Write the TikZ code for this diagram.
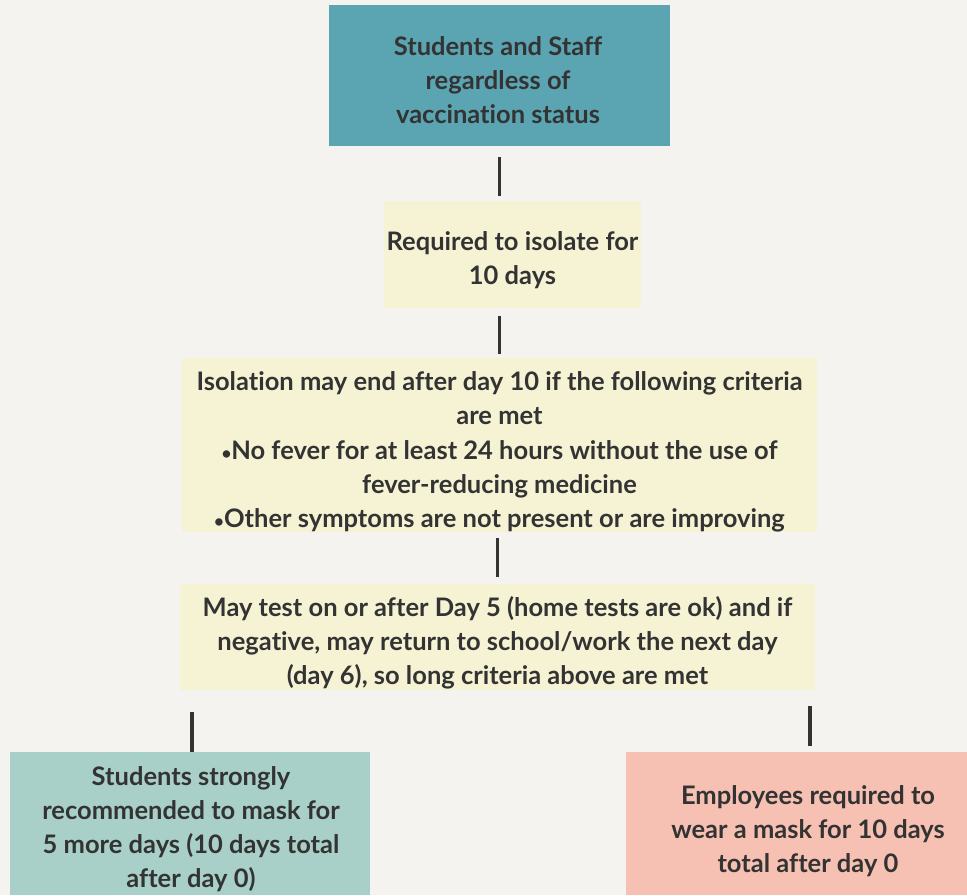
\documentclass[tikz,border=0pt]{standalone}
\usepackage{fontspec}
\setmainfont{Lato}[Ligatures={NoCommon,NoRare,NoDiscretionary}]
\definecolor{bgc}{HTML}{F4F3EF}
\definecolor{tealc}{HTML}{5BA5B3}
\definecolor{creamc}{HTML}{F6F3D5}
\definecolor{mintc}{HTML}{A8D0C8}
\definecolor{salmonc}{HTML}{F6C1B2}
\definecolor{inkc}{HTML}{333333}
\newcommand{\smallbul}{{\fontsize{17}{34}\selectfont•}}
\begin{document}
\begin{tikzpicture}[x=1pt,y=-1pt,
  box/.style={rectangle, inner sep=0pt},
  txt/.style={inner sep=0pt, align=center, text=inkc,
    font=\bfseries\fontsize{25.5}{34.2}\selectfont},
  conn/.style={draw=inkc, line width=3.5pt}]
\fill[bgc] (0,0) rectangle (967,895);
\useasboundingbox (0,0) rectangle (967,895);
\node[box, fill=tealc, minimum width=341pt, minimum height=141pt] (top) at (499.5,75.5) {};
\node[txt] (toptext) at (498,80)
  {Students and Staff\\regardless of\\vaccination status};
\node[box, fill=creamc, minimum width=257pt, minimum height=107pt] (req) at (512.5,254.5) {};
\node[txt] (reqtext) at (512.5,260)
  {Required to isolate for\\10 days};
\node[box, fill=creamc, minimum width=635pt, minimum height=174pt] (crit) at (499.5,445) {};
\node[txt] (crittext) at (499.5,452)
  {Isolation may end after day 10 if the following criteria\\are met\\%
   \smallbul No fever for at least 24 hours without the use of\\fever-reducing medicine\\%
   \smallbul Other symptoms are not present or are improving};
\node[box, fill=creamc, minimum width=635pt, minimum height=106pt] (test) at (497.5,637) {};
\node[txt] (testtext) at (497.5,643)
  {May test on or after Day 5 (home tests are ok) and if\\negative, may return to school/work the next day\\(day 6), so long criteria above are met};
\node[box, fill=mintc, minimum width=360pt, minimum height=143pt] (left) at (190,823.5) {};
\node[txt] (lefttext) at (191,829)
  {Students strongly\\recommended to mask for\\5 more days (10 days total\\after day 0)};
\node[box, fill=salmonc, minimum width=341pt, minimum height=143pt] (right) at (796.5,823.5) {};
\node[txt] (righttext) at (808,831)
  {Employees required to\\wear a mask for 10 days\\total after day 0};
\draw[conn] ([yshift=-11pt]top.south) -- ([yshift=5pt]top.south |- req.north);
\draw[conn] ([yshift=-8pt]crit.north |- req.south) -- ([yshift=4pt]crit.north);
\draw[conn] ([yshift=-6pt]test.north |- crit.south) -- ([yshift=7pt]test.north);
\draw[conn] ([xshift=2pt,yshift=-22pt]left.north |- test.south) -- ([xshift=2pt]left.north);
\draw[conn] ([xshift=13.5pt,yshift=-16pt]right.north |- test.south) -- ([xshift=13.5pt,yshift=6pt]right.north);
\end{tikzpicture}
\end{document}
